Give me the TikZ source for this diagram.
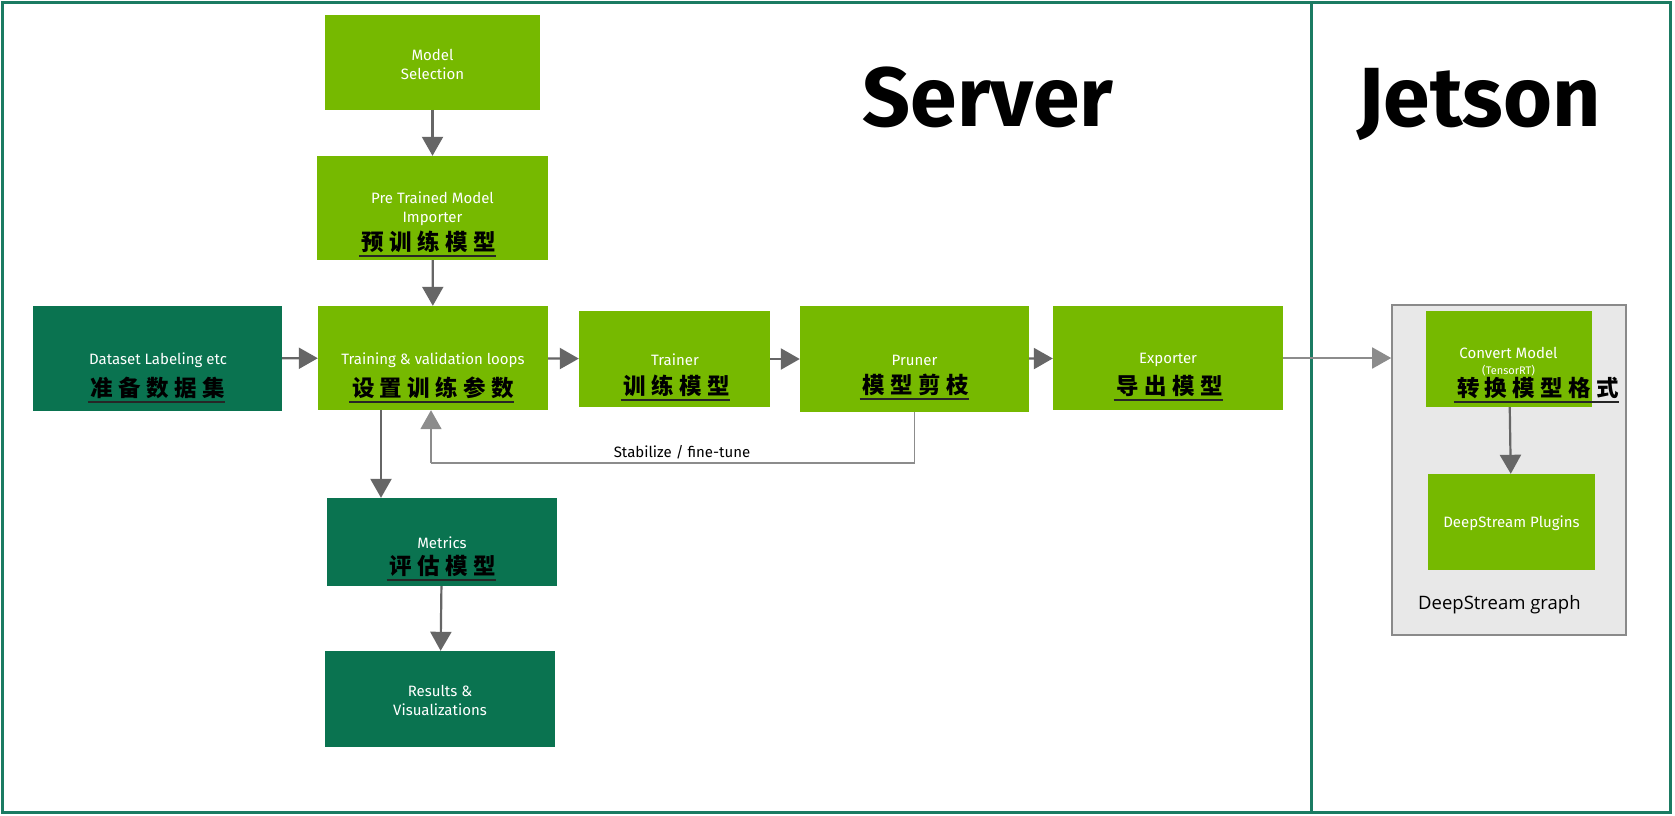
\documentclass[tikz,border=0pt]{standalone}
\usepackage{fontspec}
\usetikzlibrary{arrows.meta}
\setmainfont{Fira Sans}
\newfontfamily\enfont{Fira Sans}
\newfontfamily\dsfont{Open Sans}
\newfontfamily\zhfont[LetterSpace=24]{Noto Sans CJK SC}
\definecolor{nvgreen}{HTML}{76B900}
\definecolor{dkgreen}{HTML}{0A7350}
\definecolor{framec}{HTML}{1B7B62}
\definecolor{arrgray}{HTML}{666666}
\definecolor{fbgray}{HTML}{8C8C8C}
\definecolor{greyfill}{HTML}{E8E8E8}
\definecolor{greyline}{HTML}{8A8A8A}
\begin{document}
\begin{tikzpicture}[x=1pt,y=-1pt,
  lgbox/.style={fill=nvgreen,draw=none,inner sep=0pt},
  dgbox/.style={fill=dkgreen,draw=none,inner sep=0pt},
  en/.style={font=\enfont\fontsize{15}{19}\selectfont,text=white,align=center,inner sep=0pt},
  zh/.style={font=\zhfont\bfseries\fontsize{22.5}{24}\selectfont,text=black,inner sep=0pt},
  ul/.style={draw=black!85,line width=1.6pt},
  arr/.style={draw=arrgray,line width=2.2pt,-{Triangle[width=21pt,length=19pt]}},
  fb/.style={draw=fbgray,line width=1.7pt},
  frame/.style={draw=framec,line width=3pt},
  title/.style={font=\enfont\bfseries\fontsize{84}{90}\selectfont,text=black,inner sep=0pt,anchor=base}
]
\useasboundingbox (0,0) rectangle (1675,815);
\fill[white] (0,0) rectangle (1675,815);
% frame
\draw[frame] (2.5,2.5) rectangle (1670.5,812);
\draw[frame] (1311,2.5) -- (1311,812);
% titles
\node[title] (server) at (988,126) {Server};
\node[title] (jetson) at (1479,126) {Jetson};
% grey DeepStream box
\node[fill=greyfill,draw=greyline,line width=1.6pt,inner sep=0pt,minimum width=234pt,minimum height=330pt] (gb) at (1509,470) {};
% boxes
\node[lgbox,minimum width=215pt,minimum height=95pt] (ms) at (432.5,62) {};
\node[lgbox,minimum width=231pt,minimum height=104pt] (pt) at (432.5,208) {};
\node[dgbox,minimum width=249pt,minimum height=105pt] (ds) at (157.5,358.5) {};
\node[lgbox,minimum width=230pt,minimum height=104pt] (tr) at (433,358) {};
\node[lgbox,minimum width=191pt,minimum height=96pt] (tn) at (674.5,359) {};
\node[lgbox,minimum width=229pt,minimum height=106pt] (pr) at (914.5,359) {};
\node[lgbox,minimum width=230pt,minimum height=104pt] (ex) at (1168,358) {};
\node[lgbox,minimum width=166pt,minimum height=96pt] (cv) at (1509,359) {};
\node[lgbox,minimum width=167pt,minimum height=96pt] (dp) at (1511.5,522) {};
\node[dgbox,minimum width=230pt,minimum height=88pt] (me) at (442,542) {};
\node[dgbox,minimum width=230pt,minimum height=96pt] (re) at (440,699) {};
% English texts
\node[en] (ms-t) at (432.5,64) {Model\\Selection};
\node[en] (pt-t) at (432.5,209) {Pre Trained Model\\Importer};
\node[en] (ds-t) at (158,360) {Dataset Labeling etc};
\node[en] (tr-t) at (433,360) {Training \& validation loops};
\node[en] (tn-t) at (675,360) {Trainer};
\node[en] (pr-t) at (914.5,360) {Pruner};
\node[en] (ex-t) at (1168,360) {Exporter};
\node[en] (cv-t) at (1508.5,353) {Convert Model};
\node[en,font=\enfont\fontsize{11}{12}\selectfont] (cv-s) at (1508.5,371) {(TensorRT)};
\node[en] (dp-t) at (1511.5,523) {DeepStream Plugins};
\node[en] (me-t) at (442,543) {Metrics};
\node[en] (re-t) at (440,700) {Results \&\\Visualizations};
\node[font=\dsfont\fontsize{18.5}{20}\selectfont,text=black,anchor=west,inner sep=0pt] (dsg) at (1418,605) {DeepStream graph};
\node[font=\enfont\fontsize{15}{16}\selectfont,text=black,inner sep=0pt] (stab) at (682,452) {Stabilize / fine-tune};
% Chinese texts
\node[zh] (pt-z) at (429,242) {预训练模型};
\node[zh] (ds-z) at (158,388) {准备数据集};
\node[zh] (tr-z) at (433,388) {设置训练参数};
\node[zh] (tn-z) at (677,386) {训练模型};
\node[zh] (pr-z) at (916,385) {模型剪枝};
\node[zh] (ex-z) at (1170,386) {导出模型};
\node[zh] (me-z) at (443,566) {评估模型};
\node[zh] (cv-z) at (1538,388) {转换模型格式};
\foreach \z in {pt-z,ds-z,tr-z,tn-z,pr-z,ex-z,me-z,cv-z}
  \draw[ul] ([xshift=-3pt,yshift=-3pt]\z.south west) -- ([xshift=0pt,yshift=-3pt]\z.south east);
% connectors
\draw[arr] (ms) -- (pt);
\draw[arr] (pt) -- (tr);
\draw[arr] (ds) -- (tr);
\draw[arr] (tr) -- (tn);
\draw[arr] (tn) -- (pr);
\draw[arr] (pr) -- (ex);
\draw[arr,draw=fbgray,line width=1.8pt] (ex.east) -- (ex.east -| gb.west);
\draw[arr] ([xshift=-52pt]tr.south) -- ([xshift=-52pt]tr.south |- me.north);
\draw[arr] (me) -- (re);
\draw[arr] (cv) -- (dp);
\coordinate (fbk) at (431,463);
\draw[fb] (pr.south) |- (fbk);
\draw[arr,draw=fbgray,line width=1.7pt] (fbk) -- (fbk |- tr.south);
\end{tikzpicture}
\end{document}
